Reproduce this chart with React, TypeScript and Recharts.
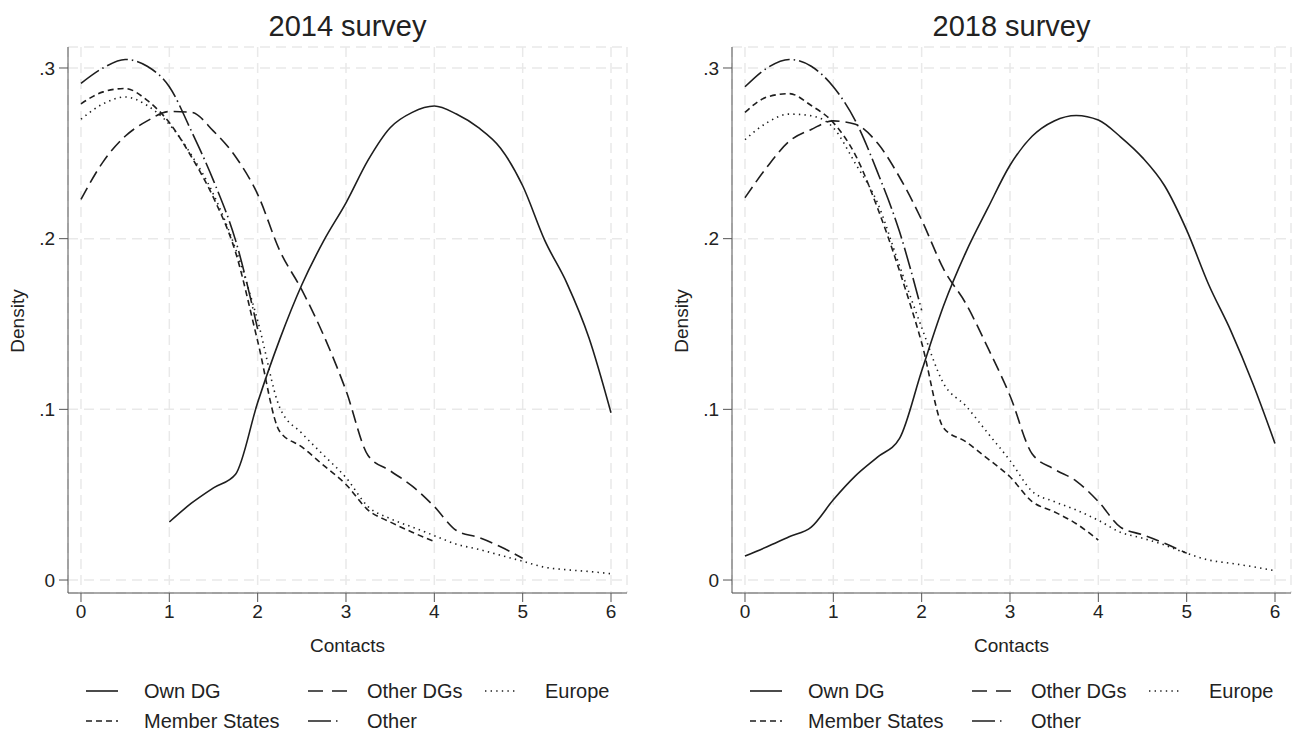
import React from 'react';
import { LineChart, Line, XAxis, YAxis, CartesianGrid } from 'recharts';

// ---------- shared axis ticks ----------
const xTicks = [0, 1, 2, 3, 4, 5, 6];
const yTicks = [0, 0.1, 0.2, 0.3];

// ---------- x grids (Contacts) ----------
const xOther = [0, 0.25, 0.5, 0.75, 1, 1.25, 1.5, 1.75, 2];
const xMember = [0, 0.25, 0.5, 0.75, 1, 1.25, 1.5, 1.75, 2, 2.25, 2.5, 2.75, 3, 3.25, 3.5, 3.75, 4];
const xOtherDGs = [0, 0.25, 0.5, 0.75, 1, 1.25, 1.5, 1.75, 2, 2.25, 2.5, 2.75, 3, 3.25, 3.5, 3.75, 4, 4.25, 4.5, 4.75, 5];
const xEurope = [0, 0.25, 0.5, 0.75, 1, 1.25, 1.5, 1.75, 2, 2.25, 2.5, 2.75, 3, 3.25, 3.5, 3.75, 4, 4.25, 4.5, 4.75, 5, 5.25, 5.5, 5.75, 6];
const xOwn2014 = [1, 1.25, 1.5, 1.75, 2, 2.25, 2.5, 2.75, 3, 3.25, 3.5, 3.75, 4, 4.25, 4.5, 4.75, 5, 5.25, 5.5, 5.75, 6];
const xOwn2018 = [0, 0.25, 0.5, 0.75, 1, 1.25, 1.5, 1.75, 2, 2.25, 2.5, 2.75, 3, 3.25, 3.5, 3.75, 4, 4.25, 4.5, 4.75, 5, 5.25, 5.5, 5.75, 6];

// ---------- 2014 survey densities ----------
const own2014 = [0.034, 0.045, 0.054, 0.062, 0.104, 0.141, 0.173, 0.199, 0.221, 0.246, 0.265, 0.274, 0.2777, 0.273, 0.265, 0.253, 0.231, 0.199, 0.174, 0.142, 0.098];
const otherDGs2014 = [0.223, 0.245, 0.26, 0.269, 0.2745, 0.274, 0.263, 0.248, 0.226, 0.193, 0.17, 0.143, 0.111, 0.073, 0.064, 0.055, 0.043, 0.029, 0.025, 0.0195, 0.0127];
const europe2014 = [0.27, 0.279, 0.283, 0.278, 0.267, 0.249, 0.226, 0.194, 0.152, 0.101, 0.086, 0.073, 0.06, 0.043, 0.036, 0.031, 0.026, 0.021, 0.018, 0.0145, 0.011, 0.0075, 0.006, 0.005, 0.0037];
const member2014 = [0.279, 0.286, 0.288, 0.281, 0.268, 0.248, 0.224, 0.192, 0.14, 0.087, 0.078, 0.067, 0.056, 0.041, 0.034, 0.028, 0.0225];
const other2014 = [0.291, 0.3, 0.305, 0.301, 0.289, 0.263, 0.234, 0.199, 0.147];

// ---------- 2018 survey densities ----------
const own2018 = [0.014, 0.0195, 0.0254, 0.031, 0.047, 0.061, 0.072, 0.083, 0.1225, 0.161, 0.192, 0.218, 0.243, 0.26, 0.269, 0.2722, 0.2695, 0.2597, 0.2475, 0.231, 0.205, 0.173, 0.146, 0.115, 0.08];
const otherDGs2018 = [0.224, 0.242, 0.257, 0.264, 0.269, 0.267, 0.256, 0.236, 0.211, 0.182, 0.162, 0.136, 0.108, 0.074, 0.065, 0.058, 0.046, 0.031, 0.0265, 0.0215, 0.0157];
const europe2018 = [0.258, 0.268, 0.273, 0.272, 0.265, 0.244, 0.221, 0.184, 0.148, 0.115, 0.102, 0.086, 0.07, 0.052, 0.046, 0.041, 0.035, 0.028, 0.0245, 0.0205, 0.0157, 0.0117, 0.0098, 0.0078, 0.0055];
const member2018 = [0.274, 0.283, 0.285, 0.278, 0.268, 0.249, 0.218, 0.181, 0.139, 0.089, 0.081, 0.071, 0.0605, 0.046, 0.04, 0.033, 0.0234];
const other2018 = [0.289, 0.3, 0.305, 0.301, 0.289, 0.269, 0.239, 0.204, 0.158];

const titles = ['2014 survey', '2018 survey'];
const seriesNames = ['Own DG', 'Other DGs', 'Europe', 'Member States', 'Other'];

const INK = '#1e1e1e';
const FONT = '"Liberation Sans", Arial, Helvetica, sans-serif';

const styles: Record<string, { dash?: string }> = {
  'Own DG': {},
  'Other DGs': { dash: '13 6' },
  Europe: { dash: '1.4 4.2' },
  'Member States': { dash: '6 4' },
  Other: { dash: '22 4 1.5 4' },
};

const zip = (xs: number[], ys: number[]) => xs.map((x, i) => ({ x, y: ys[i] }));

const panels = [
  {
    title: titles[0],
    series: [
      { name: 'Own DG', data: zip(xOwn2014, own2014) },
      { name: 'Other DGs', data: zip(xOtherDGs, otherDGs2014) },
      { name: 'Europe', data: zip(xEurope, europe2014) },
      { name: 'Member States', data: zip(xMember, member2014) },
      { name: 'Other', data: zip(xOther, other2014) },
    ],
  },
  {
    title: titles[1],
    series: [
      { name: 'Own DG', data: zip(xOwn2018, own2018) },
      { name: 'Other DGs', data: zip(xOtherDGs, otherDGs2018) },
      { name: 'Europe', data: zip(xEurope, europe2018) },
      { name: 'Member States', data: zip(xMember, member2018) },
      { name: 'Other', data: zip(xOther, other2018) },
    ],
  },
];

const fmtY = (v: number) => (v === 0 ? '0' : String(Number(v.toFixed(1))).replace(/^0/, ''));

function Legend() {
  const items = [
    { name: seriesNames[0], kx: 86, tx: 144, row: 0 },
    { name: seriesNames[1], kx: 308, tx: 367, row: 0 },
    { name: seriesNames[2], kx: 485, tx: 545, row: 0 },
    { name: seriesNames[3], kx: 86, tx: 144, row: 1 },
    { name: seriesNames[4], kx: 308, tx: 367, row: 1 },
  ];
  return (
    <svg width={648} height={63} style={{ position: 'absolute', left: 0, top: 670 }}>
      {items.map((it) => {
        const y = it.row === 0 ? 21 : 51;
        const len = it.name === 'Other DGs' ? 40 : 32;
        let dash = styles[it.name].dash;
        if (it.name === 'Other DGs') dash = '15 9';
        if (it.name === 'Other') dash = '23 5 1.5 30';
        return (
          <g key={it.name}>
            <line x1={it.kx} x2={it.kx + len} y1={y} y2={y} stroke={INK} strokeWidth={1.6} strokeDasharray={dash} />
            <text x={it.tx} y={y} dominantBaseline="central" fontSize={20} fill="#222" fontFamily={FONT}>
              {it.name}
            </text>
          </g>
        );
      })}
    </svg>
  );
}

function Panel({ left, panel }: { left: number; panel: (typeof panels)[number] }) {
  return (
    <div style={{ position: 'absolute', left, top: 0, width: 648, height: 733, fontFamily: FONT }}>
      <div style={{ position: 'absolute', left: 68, width: 559, top: 9, textAlign: 'center', fontSize: 29, color: '#222', lineHeight: '34px' }}>
        {panel.title}
      </div>
      <div style={{ position: 'absolute', left: 0, top: 0 }}>
        <LineChart width={648} height={660} margin={{ top: 47, right: 21, bottom: 27, left: 8 }}>
          <CartesianGrid stroke="#e9e9e9" strokeWidth={1.5} strokeDasharray="10 6" />
          <XAxis
            type="number"
            dataKey="x"
            domain={[-0.147, 6.181]}
            ticks={xTicks}
            interval={0}
            allowDataOverflow
            height={40}
            tickSize={9}
            tickMargin={3}
            stroke="#555"
            tick={{ fontSize: 19, fill: '#222', fontFamily: FONT }}
          />
          <YAxis
            type="number"
            domain={[-0.0076, 0.3123]}
            ticks={yTicks}
            interval={0}
            allowDataOverflow
            width={60}
            tickSize={9}
            tickMargin={4}
            stroke="#555"
            tickFormatter={fmtY}
            tick={{ fontSize: 19, fill: '#222', fontFamily: FONT }}
          />
          {panel.series.map((s) => (
            <Line
              key={s.name}
              data={s.data}
              dataKey="y"
              name={s.name}
              type="monotone"
              stroke={INK}
              strokeWidth={1.6}
              strokeDasharray={styles[s.name].dash}
              dot={false}
              activeDot={false}
              isAnimationActive={false}
            />
          ))}
        </LineChart>
      </div>
      <div style={{ position: 'absolute', left: 68, width: 559, top: 634, textAlign: 'center', fontSize: 19, color: '#222', lineHeight: '24px' }}>
        Contacts
      </div>
      <div
        style={{
          position: 'absolute',
          left: 18,
          top: 321,
          transform: 'translate(-50%, -50%) rotate(-90deg)',
          fontSize: 19,
          color: '#222',
          whiteSpace: 'nowrap',
          lineHeight: '24px',
        }}
      >
        Density
      </div>
      <Legend />
    </div>
  );
}

export default function App() {
  return (
    <div style={{ position: 'absolute', left: 0, top: 0, width: 1296, height: 733, background: '#fff', overflow: 'hidden' }}>
      <Panel left={0} panel={panels[0]} />
      <Panel left={664} panel={panels[1]} />
    </div>
  );
}
